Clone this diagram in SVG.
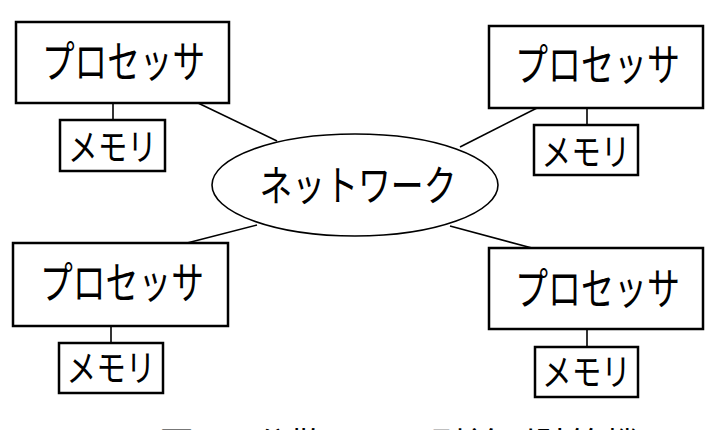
<svg xmlns="http://www.w3.org/2000/svg" width="713" height="430" viewBox="0 0 713 430">
<style>
.box{fill:#fff;stroke:#000;stroke-width:2.5}
.ln{stroke:#000;stroke-width:1.6;fill:none}
.t{font-family:"Noto Sans CJK JP","Noto Sans CJK SC",sans-serif;fill:#000;text-anchor:middle}
.p{font-size:44px}
.n{font-size:42px}
.m{font-size:37px}
.cap{font-family:"Noto Sans CJK JP",sans-serif;font-size:35px;fill:#000}
</style>
<rect width="713" height="430" fill="#fff"/>
<g id="connectors">
<line class="ln" x1="198" y1="103" x2="277" y2="141"/>
<line class="ln" x1="537" y1="108" x2="460" y2="147"/>
<line class="ln" x1="187" y1="243" x2="257" y2="225"/>
<line class="ln" x1="532" y1="248" x2="450" y2="226"/>
<line class="ln" x1="113" y1="103" x2="113" y2="120"/>
<line class="ln" x1="587" y1="108" x2="587" y2="125"/>
<line class="ln" x1="111" y1="326" x2="111" y2="343"/>
<line class="ln" x1="587" y1="329" x2="587" y2="347"/>
</g>
<g id="network">
<ellipse cx="355" cy="185" rx="143" ry="51" fill="#fff" stroke="#000" stroke-width="1.6"/>
<text class="t n" x="358" y="201" textLength="197" lengthAdjust="spacingAndGlyphs">ネットワーク</text>
</g>
<g id="proc-tl">
<rect class="box" x="16" y="22" width="213" height="81"/>
<text class="t p" x="123.5" y="78" textLength="163" lengthAdjust="spacingAndGlyphs">プロセッサ</text>
</g>
<g id="mem-tl">
<rect class="box" x="60" y="120" width="105" height="51"/>
<text class="t m" x="112.5" y="161" textLength="89" lengthAdjust="spacingAndGlyphs">メモリ</text>
</g>
<g id="proc-tr">
<rect class="box" x="489" y="26" width="214" height="82"/>
<text class="t p" x="597.5" y="81" textLength="165" lengthAdjust="spacingAndGlyphs">プロセッサ</text>
</g>
<g id="mem-tr">
<rect class="box" x="534" y="125" width="104" height="50"/>
<text class="t m" x="586" y="166" textLength="89" lengthAdjust="spacingAndGlyphs">メモリ</text>
</g>
<g id="proc-bl">
<rect class="box" x="13" y="243" width="215" height="83"/>
<text class="t p" x="122" y="299" textLength="164" lengthAdjust="spacingAndGlyphs">プロセッサ</text>
</g>
<g id="mem-bl">
<rect class="box" x="59" y="343" width="104" height="50"/>
<text class="t m" x="111" y="382" textLength="89" lengthAdjust="spacingAndGlyphs">メモリ</text>
</g>
<g id="proc-br">
<rect class="box" x="489" y="248" width="214" height="81"/>
<text class="t p" x="597.5" y="305" textLength="165" lengthAdjust="spacingAndGlyphs">プロセッサ</text>
</g>
<g id="mem-br">
<rect class="box" x="535" y="347" width="103" height="50"/>
<text class="t m" x="586.5" y="386" textLength="89" lengthAdjust="spacingAndGlyphs">メモリ</text>
</g>
<g id="caption">
<text class="cap" x="159" y="458">図</text>
<text class="cap" x="255" y="458">分散メモリ型並列計算機</text>
</g>
</svg>
